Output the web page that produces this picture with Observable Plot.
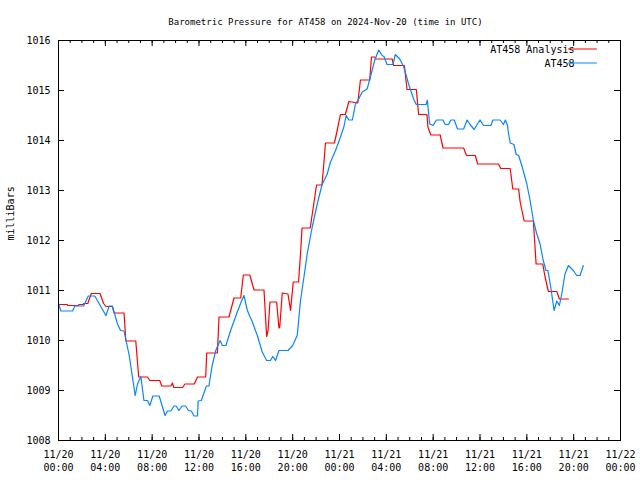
<!DOCTYPE html>
<html><head><meta charset="utf-8">
<script src="https://cdn.jsdelivr.net/npm/d3@7"></script>
<script src="https://cdn.jsdelivr.net/npm/@observablehq/plot@0.6"></script>
<style>body{margin:0;background:#fff}</style>
</head><body><div id="chart"></div>
<script>
const chartTitle = "Barometric Pressure for AT458 on 2024-Nov-20 (time in UTC)";
const yLabel = "milliBars";
const seriesNames = ["AT458 Analysis", "AT458"];
const seriesColors = ["#ff0000", "#0a84ff"];
const startTime = "2024-11-20T00:00:00Z";
const xTickHours = [0, 4, 8, 12, 16, 20, 24, 28, 32, 36, 40, 44, 48];
const yTicks = [1008, 1009, 1010, 1011, 1012, 1013, 1014, 1015, 1016];

// AT458 Analysis (red) — hours since start, milliBars
const analysisHours = [0.0,0.75,0.8,1.7,1.75,2.1,2.15,2.5,2.8,3.55,3.85,4.05,4.6,4.75,5.6,5.75,6.6,6.85,7.6,7.8,8.65,8.82,9.6,9.73,9.85,10.6,10.8,11.6,11.87,12.57,12.66,13.57,13.71,14.56,14.99,15.56,15.79,16.34,16.7,17.55,17.78,17.9,18.06,18.63,18.83,18.9,19.11,19.6,19.82,20.05,20.5,20.67,20.8,21.5,21.8,22.04,22.5,22.66,22.8,23.57,23.8,24.08,24.5,24.8,25.56,25.79,26.58,26.73,27.0,27.1,28.5,28.63,29.54,29.77,30.56,30.76,31.47,31.55,31.8,32.6,32.84,34.6,34.85,35.6,35.8,37.58,37.78,38.58,38.8,39.3,39.43,39.77,40.56,40.79,41.36,41.56,41.84,42.56,42.78,43.55];
const analysisValues = [1010.72,1010.72,1010.70,1010.70,1010.72,1010.72,1010.74,1010.74,1010.94,1010.94,1010.74,1010.68,1010.68,1010.55,1010.55,1009.99,1009.99,1009.27,1009.27,1009.20,1009.20,1009.09,1009.09,1009.15,1009.06,1009.06,1009.13,1009.13,1009.27,1009.27,1009.75,1009.75,1010.47,1010.47,1010.85,1010.85,1011.31,1011.31,1011.01,1011.01,1010.08,1010.20,1010.77,1010.77,1010.25,1010.27,1010.95,1010.93,1010.60,1011.17,1011.17,1011.73,1012.25,1012.25,1012.73,1013.11,1013.11,1013.53,1013.95,1013.95,1014.20,1014.52,1014.52,1014.78,1014.75,1015.21,1015.21,1015.67,1015.67,1015.63,1015.63,1015.50,1015.50,1015.02,1015.02,1014.52,1014.52,1014.27,1014.11,1014.11,1013.85,1013.85,1013.70,1013.70,1013.53,1013.53,1013.44,1013.44,1013.03,1013.03,1012.77,1012.39,1012.39,1011.53,1011.53,1011.27,1010.98,1010.98,1010.83,1010.83];

// AT458 observations (blue)
const obsHours = [0.0,0.2,1.2,1.4,2.15,2.54,3.1,4.05,4.33,4.6,5.04,5.3,5.6,6.04,6.55,6.75,7.03,7.3,7.6,7.8,8.06,8.6,9.1,9.3,9.6,9.87,10.05,10.28,10.56,10.85,11.1,11.35,11.58,11.87,11.93,12.2,12.63,12.85,13.1,13.43,13.8,14.0,14.3,14.7,15.27,15.7,15.84,16.13,16.56,16.98,17.4,17.78,18.1,18.3,18.54,18.83,19.6,20.0,20.39,20.67,21.0,21.24,21.67,22.1,22.5,22.95,23.23,23.66,24.02,24.37,24.57,24.8,25.1,25.36,25.64,25.93,26.36,26.64,27.0,27.35,27.64,27.8,28.06,28.57,28.77,29.14,29.48,29.9,30.33,30.56,31.41,31.5,31.7,32.0,32.27,32.84,33.03,33.3,33.52,33.8,34.08,34.6,34.9,35.15,35.5,35.75,36.0,36.3,36.93,37.1,37.72,38.0,38.17,38.35,38.43,38.58,38.9,39.09,39.3,39.57,40.0,40.28,40.56,40.85,41.13,41.4,41.64,41.8,42.04,42.33,42.56,42.78,42.98,43.26,43.55,43.97,44.26,44.55,44.82];
const obsValues = [1010.75,1010.59,1010.59,1010.69,1010.69,1010.89,1010.89,1010.50,1010.69,1010.69,1010.33,1010.20,1010.19,1009.70,1008.90,1009.13,1009.28,1008.80,1008.80,1008.70,1008.89,1008.89,1008.50,1008.59,1008.59,1008.69,1008.69,1008.60,1008.69,1008.69,1008.60,1008.59,1008.49,1008.49,1008.79,1008.80,1009.09,1009.09,1009.47,1009.80,1010.00,1009.90,1009.90,1010.20,1010.57,1010.83,1010.90,1010.60,1010.37,1010.10,1009.77,1009.60,1009.60,1009.68,1009.60,1009.80,1009.80,1009.90,1010.10,1010.80,1011.33,1011.73,1012.27,1012.73,1013.11,1013.33,1013.57,1013.80,1014.03,1014.27,1014.50,1014.41,1014.41,1014.73,1014.83,1014.97,1015.03,1015.27,1015.60,1015.81,1015.70,1015.68,1015.52,1015.52,1015.72,1015.63,1015.48,1015.13,1014.83,1014.72,1014.72,1014.81,1014.33,1014.30,1014.41,1014.41,1014.32,1014.32,1014.41,1014.41,1014.23,1014.23,1014.41,1014.32,1014.22,1014.32,1014.41,1014.30,1014.30,1014.41,1014.41,1014.32,1014.41,1014.30,1014.15,1013.95,1013.92,1013.72,1013.70,1013.50,1013.13,1012.80,1012.40,1012.13,1011.93,1011.60,1011.40,1011.40,1011.07,1010.60,1010.79,1010.70,1010.93,1011.33,1011.50,1011.40,1011.30,1011.30,1011.50];

const t0 = Date.parse(startTime);
const toDate = h => new Date(t0 + h * 3600e3);
const analysis = analysisHours.map((h, i) => ({t: toDate(h), v: analysisValues[i]}));
const obs = obsHours.map((h, i) => ({t: toDate(h), v: obsValues[i]}));
const xTicks = xTickHours.map(toDate);
const minorTicks = d3.utcHour.range(xTicks[0], xTicks[xTicks.length - 1]);

const W = 640, H = 480, mL = 58, mR = 20, mT = 40, mB = 40;
const fw = W - mL - mR, fh = H - mT - mB;
const segShape = {draw(ctx, l) { ctx.moveTo(0, l / 2); ctx.lineTo(0, -l / 2); }};
const fmt = d3.utcFormat("%m/%d\n%H:%M");

const chart = Plot.plot({
  width: W, height: H,
  marginLeft: mL, marginRight: mR, marginTop: mT, marginBottom: mB,
  style: {fontFamily: "DejaVu Sans Mono", fontSize: "10px", background: "#fff", color: "#000"},
  x: {type: "utc", domain: [xTicks[0], xTicks[xTicks.length - 1]]},
  y: {domain: [yTicks[0], yTicks[yTicks.length - 1]]},
  marks: [
    Plot.axisX({ticks: xTicks, tickSize: 0, tickPadding: 8, tickFormat: fmt, lineHeight: 1.3, label: null}),
    Plot.axisY({ticks: yTicks, tickSize: 0, tickPadding: 8, tickFormat: d => String(d), label: null}),
    // major/minor ticks, inward, mirrored
    Plot.tickX(xTicks, {x: d => d, insetTop: fh - 6, stroke: "#000"}),
    Plot.tickX(xTicks, {x: d => d, insetBottom: fh - 6, stroke: "#000"}),
    Plot.tickX(minorTicks, {x: d => d, insetTop: fh - 3, stroke: "#000"}),
    Plot.tickX(minorTicks, {x: d => d, insetBottom: fh - 3, stroke: "#000"}),
    Plot.tickY(yTicks, {y: d => d, insetRight: fw - 6, stroke: "#000"}),
    Plot.tickY(yTicks, {y: d => d, insetLeft: fw - 6, stroke: "#000"}),
    Plot.line(analysis, {x: "t", y: "v", stroke: seriesColors[0], strokeWidth: 1.2}),
    Plot.line(obs, {x: "t", y: "v", stroke: seriesColors[1], strokeWidth: 1.2}),
    Plot.frame({stroke: "#000"}),
    // legend
    Plot.text([seriesNames[0]], {text: d => d, frameAnchor: "top-right", dx: -46, dy: 5, textAnchor: "end", fill: "#000"}),
    Plot.text([seriesNames[1]], {text: d => d, frameAnchor: "top-right", dx: -46, dy: 19, textAnchor: "end", fill: "#000"}),
    Plot.vector([0], {frameAnchor: "top-right", dx: -24, dy: 8.5, length: 28, rotate: 90, shape: segShape, stroke: seriesColors[0], strokeWidth: 1.2}),
    Plot.vector([0], {frameAnchor: "top-right", dx: -24, dy: 22.5, length: 28, rotate: 90, shape: segShape, stroke: seriesColors[1], strokeWidth: 1.2}),
    // title and y label
    Plot.text([chartTitle], {text: d => d, frameAnchor: "top", dx: -14, dy: -22, fontSize: 9, fill: "#000"}),
    Plot.text([yLabel], {text: d => d, frameAnchor: "left", dx: -48, rotate: -90, fill: "#000"})
  ]
});
document.getElementById("chart").append(chart);
</script>
</body></html>
